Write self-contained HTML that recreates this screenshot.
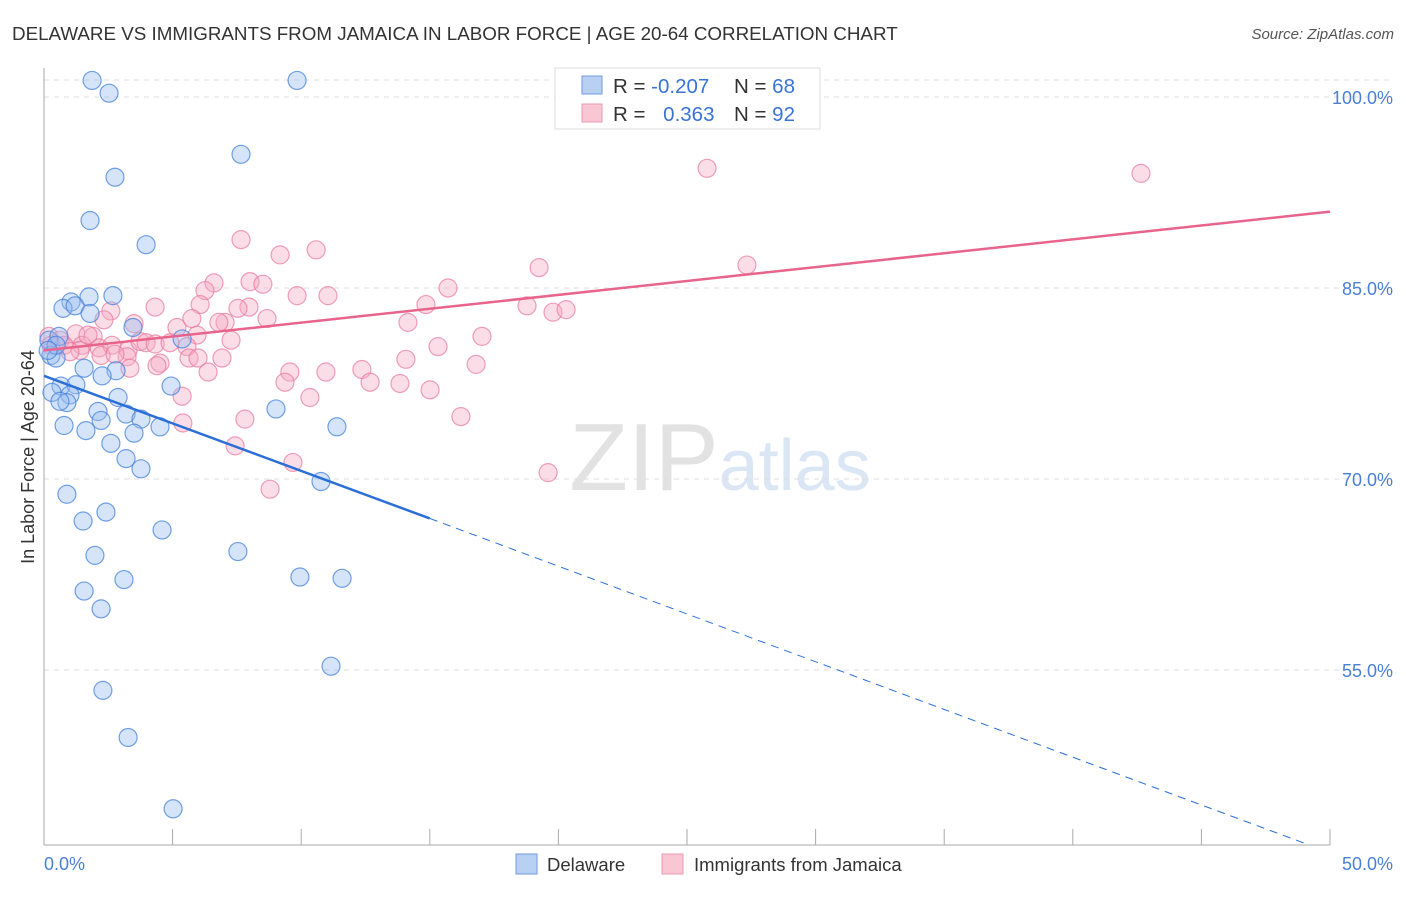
<!DOCTYPE html>
<html><head><meta charset="utf-8">
<style>
body{margin:0;background:#fff;font-family:"Liberation Sans",sans-serif;}
svg text{font-family:"Liberation Sans",sans-serif;}
</style></head>
<body>
<svg id="chart" width="1406" height="892" viewBox="0 0 1406 892">
<text x="12" y="40" font-size="18.8" fill="#333">DELAWARE VS IMMIGRANTS FROM JAMAICA IN LABOR FORCE | AGE 20-64 CORRELATION CHART</text>
<text x="1394" y="39" font-size="15" fill="#555" font-style="italic" text-anchor="end">Source: ZipAtlas.com</text>
<text x="720" y="490" font-size="96" fill="#e6e6e6" text-anchor="middle" font-family="Liberation Serif"><tspan fill="#e2e2e2">ZIP</tspan><tspan fill="#dbe6f5" font-family="Liberation Sans" font-size="72">atlas</tspan></text>
<g id="grid"></g>
<g id="axes"></g>
<g id="pink"></g>
<g id="blue"></g>
<g id="trends"></g>
<text transform="translate(34,457) rotate(-90)" font-size="18" fill="#333" text-anchor="middle">In Labor Force | Age 20-64</text>
<g>
<rect x="555" y="68" width="265" height="61" fill="#fff" stroke="#ddd"/>
<rect x="582" y="76" width="20" height="18" fill="#b8d0f2" stroke="#6f9ae0"/>
<rect x="582" y="104" width="20" height="18" fill="#f9c6d4" stroke="#ee9ab2"/>
<text x="613" y="93" font-size="20.5" fill="#333">R = <tspan fill="#3a73d6">-0.207</tspan></text>
<text x="734" y="93" font-size="20.5" fill="#333">N = <tspan fill="#3a73d6">68</tspan></text>
<text x="613" y="121" font-size="20.5" fill="#333">R = <tspan fill="#3a73d6" dx="12">0.363</tspan></text>
<text x="734" y="121" font-size="20.5" fill="#333">N = <tspan fill="#3a73d6">92</tspan></text>
</g>
<g>
<rect x="516" y="854" width="21" height="20" fill="#b8d0f2" stroke="#6f9ae0"/>
<text x="547" y="871" font-size="18.5" fill="#333">Delaware</text>
<rect x="662" y="854" width="21" height="20" fill="#f9c6d4" stroke="#ee9ab2"/>
<text x="694" y="871" font-size="18.5" fill="#333">Immigrants from Jamaica</text>
</g>
</svg>
<script>
const blueX=[1.87,9.84,2.53,7.66,2.76,1.79,3.97,1.05,0.74,1.21,1.75,2.68,1.79,0.19,0.58,3.46,5.37,0.27,0.47,1.56,2.80,2.26,0.66,1.24,4.94,1.01,0.31,0.89,0.62,2.88,2.10,3.19,3.77,2.22,9.02,0.78,1.63,4.51,3.50,2.60,11.39,3.19,3.77,0.89,10.77,1.52,2.41,4.59,1.98,7.54,3.11,1.56,9.95,11.59,2.22,11.16,2.29,3.27,5.02,0.47,0.16];
const blueY=[101.3,101.3,100.3,95.5,93.7,90.3,88.4,83.9,83.4,83.6,84.3,84.4,83.0,80.9,81.2,81.9,81.0,79.7,79.5,78.7,78.5,78.1,77.3,77.4,77.3,76.6,76.8,76.0,76.1,76.4,75.3,75.1,74.7,74.6,75.5,74.2,73.8,74.1,73.6,72.8,74.1,71.6,70.8,68.8,69.8,66.7,67.4,66.0,64.0,64.3,62.1,61.2,62.3,62.2,59.8,55.3,53.4,49.7,44.1,80.5,80.1];
const pinkX=[20.26,25.78,42.65,7.66,10.58,9.18,19.25,27.33,8.01,6.61,8.51,6.26,15.71,9.84,11.04,4.32,14.85,18.78,19.79,20.30,7.97,7.54,6.07,5.75,8.67,2.60,7.04,6.80,3.50,5.17,14.15,2.33,1.24,1.91,5.95,7.27,17.03,15.32,0.19,0.62,0.78,1.48,2.14,2.64,3.27,3.73,3.97,4.32,4.90,5.56,3.23,4.51,5.64,5.99,6.92,14.07,16.80,2.22,2.76,3.34,4.39,9.56,10.96,12.36,12.68,9.37,13.84,15.01,6.38,5.37,10.34,5.40,7.81,16.21,7.43,9.68,19.60,8.79,1.40,1.01,1.71,0.27];
const pinkY=[101.3,94.4,94.0,88.8,88.0,87.6,86.6,86.8,85.5,85.4,85.3,84.8,85.0,84.4,84.4,83.5,83.7,83.6,83.1,83.3,83.5,83.4,83.7,82.6,82.6,83.2,82.3,82.3,82.2,81.9,82.3,82.5,81.4,81.2,81.3,80.9,81.2,80.4,81.2,80.9,80.5,80.5,80.3,80.5,80.1,80.8,80.7,80.6,80.7,80.4,79.6,79.1,79.5,79.5,79.5,79.4,79.0,79.7,79.8,78.7,78.9,78.4,78.4,78.6,77.6,77.6,77.5,77.0,78.4,76.5,76.4,74.4,74.7,74.9,72.6,71.3,70.5,69.2,80.1,80.0,81.3,80.5];
const blueTrendX=[0,15,49.2];
const blueTrendY=[78.1,66.9,41.25];
const pinkTrendX=[0,50];
const pinkTrendY=[80.1,91.0];
const yTicks=[100,85,70,55];
const yTickLabels=["100.0%","85.0%","70.0%","55.0%"];
const xTicks=[0,5,10,15,20,25,30,35,40,45,50];

const NS="http://www.w3.org/2000/svg";
const sx=v=>44+v*25.72;
const sy=v=>97+(100-v)*12.733;
function mk(tag,attrs,parent){const e=document.createElementNS(NS,tag);for(const k in attrs)e.setAttribute(k,attrs[k]);document.getElementById(parent).appendChild(e);return e;}

mk('line',{x1:44,x2:1394,y1:80,y2:80,stroke:'#ddd','stroke-dasharray':'5,5'},'grid');
yTicks.forEach((t,i)=>{
  const g=mk('line',{x1:44,x2:1394,y1:sy(t),y2:sy(t),stroke:'#ddd','stroke-dasharray':'5,5'},'grid');
  
  
  const l=mk('text',{x:1393,y:sy(t)+7,'font-size':18,fill:'#4a7fd6','text-anchor':'end'},'axes');
  l.textContent=yTickLabels[i];
  
  
});
mk('line',{x1:44,x2:44,y1:68,y2:845,stroke:'#aaa'},'axes');
mk('line',{x1:44,x2:1330,y1:845,y2:845,stroke:'#aaa'},'axes');
xTicks.forEach(t=>{
  const k=mk('line',{x1:sx(t),x2:sx(t),y1:829,y2:845,stroke:'#aaa'},'axes');
  
  
});
const x0=mk('text',{x:44,y:870,'font-size':18,fill:'#4a7fd6'},'axes');x0.textContent='0.0%';


const x1=mk('text',{x:1393,y:870,'font-size':18,fill:'#4a7fd6','text-anchor':'end'},'axes');x1.textContent='50.0%';



pinkX.forEach((v,i)=>{
  const c=mk('circle',{cx:sx(v),cy:sy(pinkY[i]),r:9,fill:'rgba(246,170,195,0.4)',stroke:'rgba(232,120,155,0.7)','stroke-width':1.2},'pink');
  
  
});
blueX.forEach((v,i)=>{
  const c=mk('circle',{cx:sx(v),cy:sy(blueY[i]),r:9,fill:'rgba(150,188,240,0.4)',stroke:'rgba(70,130,220,0.75)','stroke-width':1.2},'blue');
  
  
});
const bt=mk('line',{x1:sx(blueTrendX[0]),y1:sy(blueTrendY[0]),x2:sx(blueTrendX[1]),y2:sy(blueTrendY[1]),stroke:'#2b6fd6','stroke-width':2.5},'trends');


const bd=mk('line',{x1:sx(blueTrendX[1]),y1:sy(blueTrendY[1]),x2:sx(blueTrendX[2]),y2:sy(blueTrendY[2]),stroke:'#2b6fd6','stroke-width':1,'stroke-dasharray':'8,6'},'trends');


const pt=mk('line',{x1:sx(pinkTrendX[0]),y1:sy(pinkTrendY[0]),x2:sx(pinkTrendX[1]),y2:sy(pinkTrendY[1]),stroke:'#e8648c','stroke-width':2.5},'trends');


</script>
</body></html>
